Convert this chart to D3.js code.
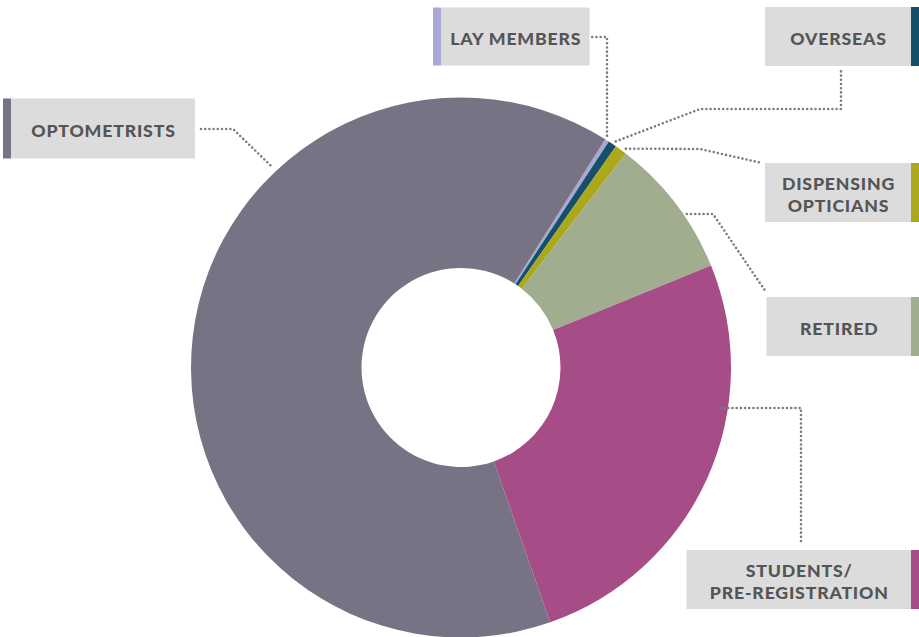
<!DOCTYPE html>
<html>
<head>
<meta charset="utf-8">
<script src="https://cdn.jsdelivr.net/npm/d3@7"></script>
<style>
  html, body { margin: 0; padding: 0; background: #fff; }
  svg { display: block; }
</style>
</head>
<body>
<div id="chart"><svg width="919" height="637"></svg></div>
<script>
const categories = ["Lay members", "Overseas", "Dispensing opticians", "Retired", "Students/pre-registration", "Optometrists"];
const shares = [0.25, 0.5, 0.72, 8.4, 25.8, 64.33];
const labelLines = [["LAY MEMBERS"], ["OVERSEAS"], ["DISPENSING", "OPTICIANS"], ["RETIRED"], ["STUDENTS/", "PRE-REGISTRATION"], ["OPTOMETRISTS"]];
const colors = ["#a8a7d6", "#164f69", "#aba91b", "#a0ad8f", "#a64c86", "#787384"];

const svg = d3.select("#chart svg"),
      cx = 461, cy = 367.5,
      outerR = 270, innerR = 99.5;

const data = categories.map((c, i) => ({name: c, value: shares[i], color: colors[i], lines: labelLines[i]}));

const startDeg = 32.3;
const pie = d3.pie()
    .sort(null)
    .value(d => d.value)
    .startAngle(startDeg * Math.PI / 180)
    .endAngle(startDeg * Math.PI / 180 + 2 * Math.PI);

const arc = d3.arc().innerRadius(innerR).outerRadius(outerR);

const g = svg.append("g").attr("transform", `translate(${cx},${cy})`);

g.selectAll("path")
  .data(pie(data))
  .join("path")
    .attr("d", arc)
    .attr("fill", d => d.data.color);

// label boxes: gray panel + coloured accent bar
const boxes = [
  {x0: 441, x1: 589.5, y0: 7.5, y1: 65.5, accent: "left"},
  {x0: 765, x1: 911, y0: 7, y1: 66, accent: "right"},
  {x0: 765, x1: 911, y0: 163, y1: 222, accent: "right"},
  {x0: 766.5, x1: 911, y0: 297, y1: 356, accent: "right"},
  {x0: 686.5, x1: 911, y0: 550, y1: 609, accent: "right"},
  {x0: 11, x1: 195, y0: 98.5, y1: 158.5, accent: "left"}
];

// leader lines: anchor on the ring (angle in degrees, radius) then elbows
const leaders = [
  {deg: 32.2, r: 274, pts: [[607, 37], [592, 37]]},
  {deg: 34.4, r: 274, pts: [[700, 109], [841, 109], [841, 70]]},
  {deg: 37.0, r: 274, pts: [[700, 149], [762, 163]]},
  {deg: 55.8, r: 273, pts: [[713, 214], [766, 292]]},
  {deg: 98.9, r: 262, pts: [[801, 408], [801, 545]]},
  {deg: 316.7, r: 278, pts: [[233, 129], [197, 129]]}
];

const line = d3.line();
svg.append("g")
  .selectAll("path")
  .data(leaders)
  .join("path")
    .attr("d", d => {
      const p = d3.pointRadial(d.deg * Math.PI / 180, d.r);
      return line([[cx + p[0], cy + p[1]], ...d.pts]);
    })
    .attr("fill", "none")
    .attr("stroke", "#7d7d7d")
    .attr("stroke-width", 2.6)
    .attr("stroke-linecap", "round")
    .attr("stroke-dasharray", "0,4.2");

const labels = svg.append("g")
  .selectAll("g")
  .data(data)
  .join("g");

labels.append("rect")
    .attr("x", (d, i) => boxes[i].x0)
    .attr("y", (d, i) => boxes[i].y0)
    .attr("width", (d, i) => boxes[i].x1 - boxes[i].x0)
    .attr("height", (d, i) => boxes[i].y1 - boxes[i].y0)
    .attr("fill", "#dcdcdc");

labels.append("rect")
    .attr("x", (d, i) => boxes[i].accent === "left" ? boxes[i].x0 - 8 : boxes[i].x1)
    .attr("y", (d, i) => boxes[i].y0)
    .attr("width", 8)
    .attr("height", (d, i) => boxes[i].y1 - boxes[i].y0)
    .attr("fill", d => d.color);

labels.each(function(d, i) {
  const b = boxes[i],
        mx = (b.x0 + b.x1) / 2,
        my = (b.y0 + b.y1) / 2,
        n = d.lines.length,
        lh = 21.5;
  const t = d3.select(this).append("text")
      .attr("text-anchor", "middle")
      .attr("font-family", "Lato, 'Open Sans', sans-serif")
      .attr("font-weight", 900)
      .attr("font-size", "17.7px")
      .attr("letter-spacing", "0.8px")
      .attr("fill", "#555555");
  d.lines.forEach((s, k) => {
    t.append("tspan")
      .attr("x", mx + 0.5)
      .attr("y", my + 8.5 - (n - 1) * lh / 2 + k * lh)
      .text(s);
  });
});
</script>
</body>
</html>
